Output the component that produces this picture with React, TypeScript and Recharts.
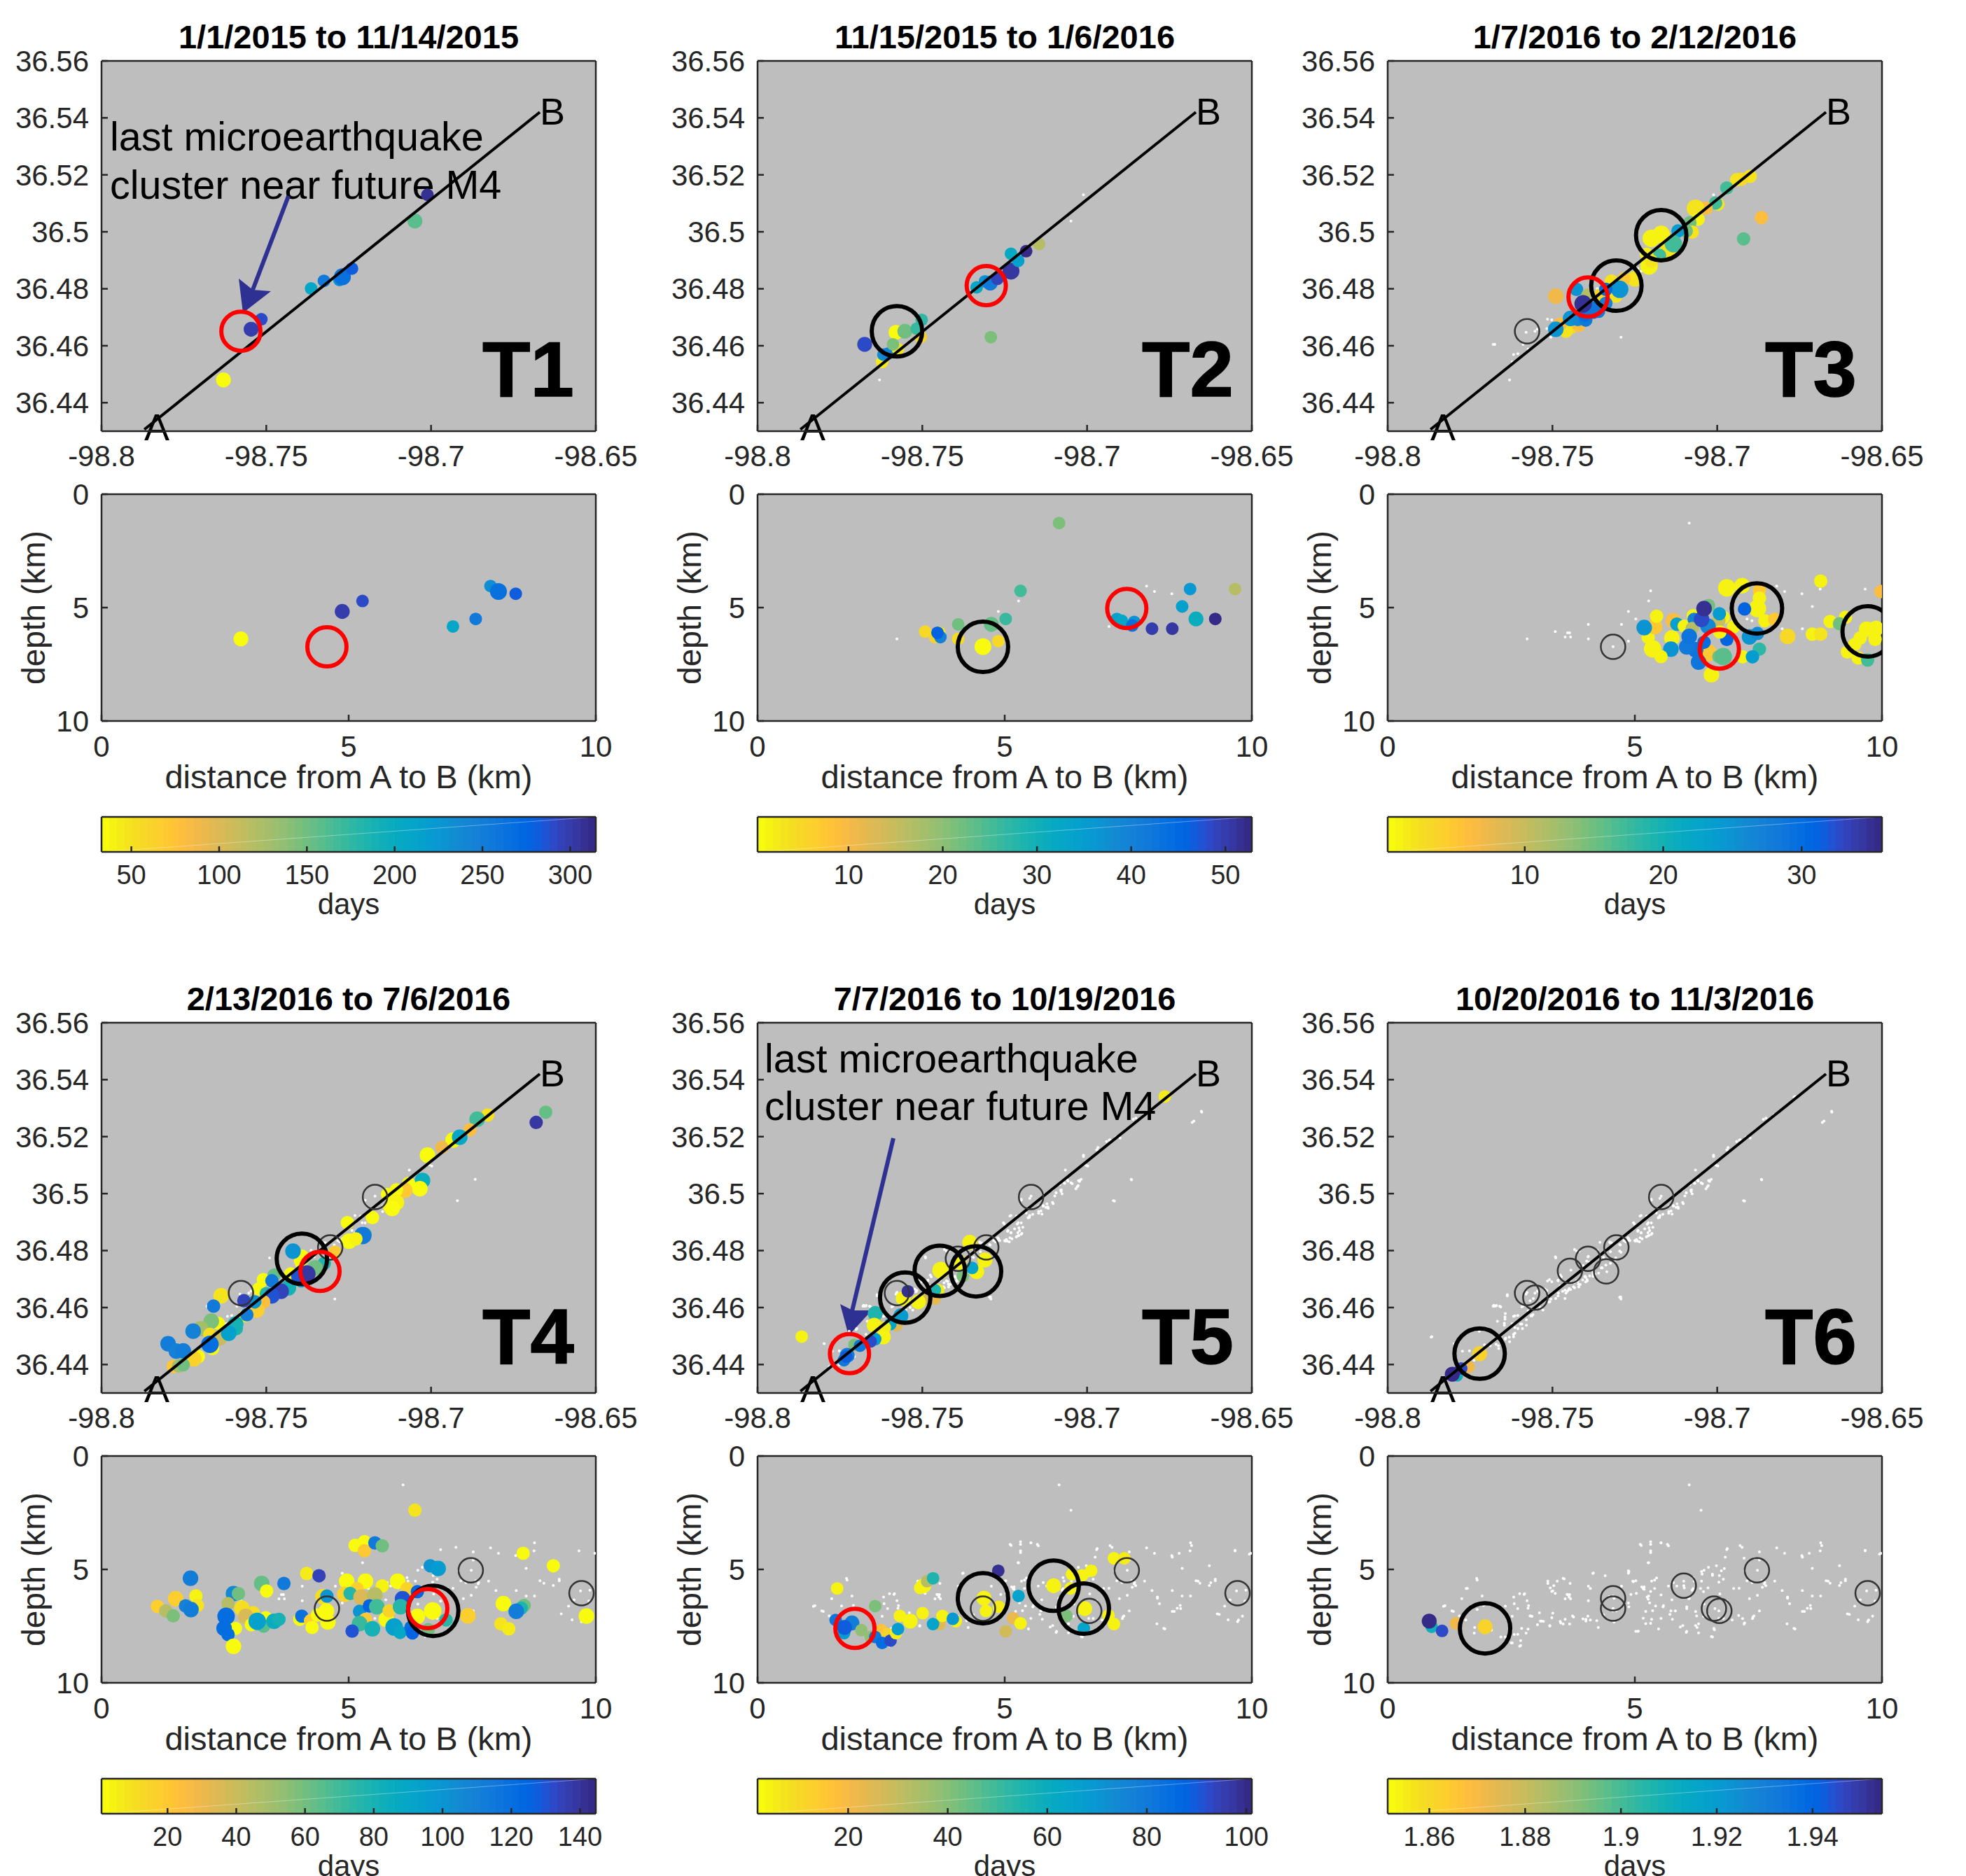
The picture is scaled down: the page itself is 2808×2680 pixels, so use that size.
import { ScatterChart, Scatter, XAxis, YAxis, ZAxis, CartesianGrid, ReferenceArea, ReferenceLine } from 'recharts';

// parula colormap, drawn reversed (yellow = first days, navy = last days)
const parula = [
  [0.2081, 0.1663, 0.5292], [0.2116, 0.1898, 0.5777], [0.2123, 0.2138, 0.627], [0.2081, 0.2386, 0.6771],
  [0.1959, 0.2645, 0.7279], [0.1707, 0.2919, 0.7792], [0.1253, 0.3242, 0.8303], [0.0591, 0.3598, 0.8683],
  [0.0117, 0.3875, 0.882], [0.006, 0.4086, 0.8828], [0.0165, 0.4266, 0.8786], [0.0329, 0.443, 0.872],
  [0.0498, 0.4586, 0.8641], [0.0629, 0.4737, 0.8554], [0.0723, 0.4887, 0.8467], [0.0779, 0.504, 0.8384],
  [0.0793, 0.52, 0.8312], [0.0749, 0.5375, 0.8263], [0.0641, 0.557, 0.824], [0.0488, 0.5772, 0.8228],
  [0.0343, 0.5966, 0.8199], [0.0265, 0.6137, 0.8135], [0.0239, 0.6287, 0.8038], [0.0231, 0.6418, 0.7913],
  [0.0228, 0.6535, 0.7768], [0.0267, 0.6642, 0.7607], [0.0384, 0.6743, 0.7436], [0.059, 0.6838, 0.7254],
  [0.0843, 0.6928, 0.7062], [0.1133, 0.7015, 0.6859], [0.1453, 0.7098, 0.6646], [0.1801, 0.7177, 0.6424],
  [0.2178, 0.725, 0.6193], [0.2586, 0.7317, 0.5954], [0.3022, 0.7376, 0.5712], [0.3482, 0.7424, 0.5473],
  [0.3953, 0.7459, 0.5244], [0.442, 0.7481, 0.5033], [0.4871, 0.7491, 0.484], [0.53, 0.7491, 0.4661],
  [0.5709, 0.7485, 0.4494], [0.6099, 0.7473, 0.4337], [0.6473, 0.7456, 0.4188], [0.6834, 0.7435, 0.4044],
  [0.7184, 0.7411, 0.3905], [0.7525, 0.7384, 0.3768], [0.7858, 0.7356, 0.3633], [0.8185, 0.7327, 0.3498],
  [0.8507, 0.7299, 0.336], [0.8824, 0.7274, 0.3217], [0.9139, 0.7258, 0.3063], [0.945, 0.7261, 0.2886],
  [0.9739, 0.7314, 0.2666], [0.9938, 0.7455, 0.2403], [0.999, 0.7653, 0.2164], [0.9955, 0.7861, 0.1967],
  [0.988, 0.8066, 0.1794], [0.9789, 0.8271, 0.1633], [0.9697, 0.8481, 0.1475], [0.9626, 0.8705, 0.1309],
  [0.9589, 0.8949, 0.1132], [0.9598, 0.9218, 0.0948], [0.9661, 0.9514, 0.0755], [0.9763, 0.9831, 0.0538],
];
const colormap = parula
  .slice()
  .reverse()
  .map(([r, g, b]) => `rgb(${Math.round(r * 255)},${Math.round(g * 255)},${Math.round(b * 255)})`);

// map rows: [lon, lat, days, size class]; depth rows: [distance, depth, days, size class]
const t1Map = [
  [-98.763, 36.448, 35, 2], [-98.7546, 36.4658, 300, 2], [-98.7515, 36.4693, 290], [-98.7364, 36.4801, 205],
  [-98.7325, 36.4828, 255], [-98.7278, 36.4831, 235], [-98.7269, 36.4842, 262, 3], [-98.724, 36.4871, 280],
  [-98.7049, 36.5038, 160, 2], [-98.7011, 36.513, 310],
];
const t1Depth = [
  [2.82, 6.38, 35, 2], [4.87, 5.17, 300, 2], [5.28, 4.71, 290], [7.11, 5.83, 205],
  [7.57, 5.5, 255], [7.87, 4.05, 235], [8.03, 4.29, 262, 3], [8.38, 4.39, 280],
];
const t2Map = [
  [-98.768, 36.4605, 5], [-98.7675, 36.4605, 48, 2], [-98.7622, 36.4543, 2], [-98.7618, 36.4569, 38],
  [-98.7605, 36.4572, 40], [-98.7574, 36.4588, 3], [-98.758, 36.4647, 1, 2], [-98.7589, 36.4605, 21],
  [-98.7505, 36.463, 6], [-98.7553, 36.4651, 22, 2], [-98.7517, 36.466, 26], [-98.7502, 36.4691, 27],
  [-98.7335, 36.4805, 33], [-98.731, 36.4826, 37], [-98.7294, 36.482, 42, 2], [-98.7272, 36.4835, 49],
  [-98.7292, 36.463, 21], [-98.7231, 36.4862, 51, 3], [-98.7209, 36.4898, 34], [-98.7231, 36.4923, 32],
  [-98.7185, 36.4932, 52], [-98.7146, 36.4957, 16],
];
const t2Depth = [
  [3.39, 6.06, 5], [3.59, 6.3, 6], [4.06, 6.38, 4], [3.68, 6.11, 3], [3.7, 6.3, 40], [3.64, 6.11, 46],
  [4.06, 5.74, 22], [4.73, 5.74, 23, 2], [5.02, 5.5, 26], [5.32, 4.26, 25], [4.56, 6.72, 1, 3], [4.87, 6.48, 5],
  [6.1, 1.27, 21], [7.27, 5.5, 34], [7.37, 5.58, 33], [7.62, 5.63, 37], [7.58, 5.79, 43], [7.98, 5.93, 50],
  [8.39, 5.93, 51], [8.59, 4.95, 34], [8.75, 4.18, 36], [8.87, 5.5, 31, 2], [9.26, 5.5, 52], [9.66, 4.18, 16],
];
const t3Map = [
  [-98.692, 36.4975, 16], [-98.6866, 36.505, 6], [-98.69, 36.5195, 2], [-98.6926, 36.5185, 3], [-98.6941, 36.5183, 2],
  [-98.6971, 36.5154, 17], [-98.6998, 36.5097, 2], [-98.7005, 36.5101, 17], [-98.7034, 36.5083, 6], [-98.7066, 36.5083, 2, 3],
  [-98.7058, 36.5044, 1], [-98.7083, 36.5032, 15], [-98.7076, 36.4999, 2], [-98.7094, 36.5003, 15], [-98.7119, 36.5003, 24],
  [-98.72, 36.4977, 1, 3], [-98.717, 36.4991, 1, 3], [-98.7147, 36.4937, 2, 3], [-98.7133, 36.4958, 17, 3], [-98.7175, 36.4917, 17],
  [-98.7214, 36.4921, 1], [-98.7207, 36.488, 1, 3], [-98.72, 36.4897, 2], [-98.725, 36.4835, 2, 2], [-98.7283, 36.4835, 5],
  [-98.7321, 36.4827, 2], [-98.7308, 36.4774, 2], [-98.7355, 36.4778, 3], [-98.7296, 36.4798, 25, 3], [-98.7338, 36.4798, 30],
  [-98.7338, 36.4749, 27], [-98.7427, 36.4798, 25], [-98.749, 36.4774, 7, 2], [-98.7392, 36.4778, 11], [-98.7445, 36.4663, 3],
  [-98.7459, 36.4651, 2], [-98.7477, 36.4676, 6], [-98.742, 36.4672, 6], [-98.7445, 36.4696, 25, 2], [-98.7423, 36.4692, 26],
  [-98.7399, 36.469, 28], [-98.749, 36.4658, 25, 2], [-98.736, 36.4721, 28], [-98.7402, 36.4708, 30], [-98.7377, 36.4725, 29, 3],
  [-98.7407, 36.4747, 35, 3],
];
const t3Depth = [
  [6.86, 4.13, 1, 3], [7.17, 4.03, 1, 2], [8.76, 3.83, 1], [9.98, 4.29, 6], [7.52, 4.23, 5], [7.52, 4.58, 1], [7.48, 5.04, 1, 3],
  [7.22, 5.06, 31], [7.63, 5.58, 1], [7.83, 5.52, 5], [7.0, 5.84, 1], [7.32, 6.29, 25, 2], [7.48, 6.14, 26], [8.09, 6.27, 3, 2],
  [8.59, 6.17, 1], [8.76, 6.17, 2], [8.95, 5.61, 1], [9.26, 5.43, 1], [9.14, 5.71, 15], [9.69, 5.95, 1, 2], [9.88, 5.92, 1, 2],
  [9.56, 6.34, 1], [9.86, 6.4, 1], [9.45, 6.62, 1], [9.3, 6.96, 1], [9.52, 7.22, 1], [9.71, 7.31, 17], [7.52, 6.83, 18],
  [7.18, 7.17, 1], [7.38, 7.17, 24], [6.48, 6.99, 5, 3], [6.7, 7.16, 15], [6.79, 7.16, 16, 3], [6.55, 7.96, 1, 2], [6.29, 7.4, 29, 2],
  [6.23, 6.86, 29, 2], [6.05, 6.73, 28, 2], [6.86, 6.4, 31], [6.4, 6.53, 30], [5.75, 6.34, 1, 2], [5.73, 6.83, 25, 2], [5.36, 6.82, 1, 3],
  [5.53, 7.16, 1], [5.27, 6.31, 1], [5.4, 5.84, 5, 2], [5.19, 5.88, 25, 2], [5.44, 5.38, 1], [5.78, 5.58, 6, 2], [5.85, 5.73, 23],
  [6.0, 5.82, 1], [6.18, 5.36, 1], [6.2, 5.52, 27], [6.16, 5.92, 11], [6.1, 6.27, 29, 2], [6.79, 5.43, 1], [6.7, 5.56, 10],
  [6.72, 6.08, 1], [6.71, 5.27, 24], [6.48, 5.82, 26, 2], [6.49, 4.91, 15], [6.35, 5.52, 33, 2], [6.4, 5.04, 35, 2],
];
const t4Map = [
  [-98.7132, 36.4997, 3], [-98.7125, 36.4952, 4], [-98.7178, 36.4916, 3], [-98.7254, 36.4898, 3], [-98.72, 36.4857, 60], [-98.7207, 36.4853, 115, 3],
  [-98.7249, 36.4833, 3, 2], [-98.7228, 36.4841, 4], [-98.7292, 36.4794, 20], [-98.7391, 36.478, 2], [-98.7396, 36.4763, 2], [-98.7419, 36.4798, 100, 2],
  [-98.7324, 36.4755, 78], [-98.7352, 36.4739, 60, 2], [-98.7426, 36.4718, 3], [-98.7394, 36.4694, 95], [-98.7401, 36.471, 130, 2], [-98.7377, 36.4718, 140, 3],
  [-98.7433, 36.4669, 80, 2], [-98.7455, 36.4657, 135, 2], [-98.7509, 36.4698, 3], [-98.7523, 36.4665, 3], [-98.7476, 36.4714, 62], [-98.7483, 36.4694, 115],
  [-98.75, 36.4649, 75], [-98.7483, 36.4641, 130, 2], [-98.7508, 36.462, 25], [-98.7637, 36.4641, 8, 2], [-98.7529, 36.4591, 18, 2], [-98.7535, 36.462, 100],
  [-98.7568, 36.4624, 135], [-98.766, 36.4605, 115], [-98.7563, 36.4572, 3], [-98.7559, 36.4575, 112], [-98.7646, 36.4545, 3], [-98.7667, 36.4552, 58, 2],
  [-98.7591, 36.4526, 78], [-98.7593, 36.4542, 80, 2], [-98.7699, 36.4526, 50, 2], [-98.7722, 36.4517, 110, 2], [-98.7671, 36.4506, 12], [-98.7642, 36.4493, 40, 2],
  [-98.7614, 36.451, 95, 2], [-98.7663, 36.4456, 3], [-98.7671, 36.4471, 122, 3], [-98.7706, 36.4428, 3], [-98.772, 36.442, 15, 2], [-98.7798, 36.4473, 112, 2],
  [-98.7773, 36.4447, 110, 2], [-98.7752, 36.4448, 112, 2], [-98.7782, 36.4393, 20], [-98.7766, 36.4395, 50], [-98.7752, 36.4399, 60],
  [-98.6652, 36.5286, 62], [-98.6681, 36.525, 138], [-98.6828, 36.5276, 8], [-98.686, 36.5261, 70, 2], [-98.6882, 36.5224, 25], [-98.6933, 36.5188, 3, 2],
  [-98.6913, 36.5198, 90, 2], [-98.6967, 36.5162, 30], [-98.7011, 36.5135, 3, 2], [-98.7023, 36.5046, 45], [-98.7026, 36.5046, 85, 2], [-98.7034, 36.5017, 3, 2],
  [-98.7068, 36.5036, 3], [-98.708, 36.5012, 20, 2], [-98.7105, 36.5013, 3], [-98.7105, 36.4969, 4, 2], [-98.7118, 36.4948, 3, 2],
];
const t4Depth = [
  [6.34, 2.39, 8], [5.13, 3.94, 3], [5.32, 3.78, 3], [5.32, 4.18, 20], [5.53, 3.83, 115], [5.68, 3.96, 60], [8.53, 4.29, 3], [9.14, 4.84, 3],
  [6.65, 4.84, 100], [6.81, 4.96, 97, 2], [4.15, 5.18, 6], [4.4, 5.28, 135], [1.8, 5.39, 112, 2], [3.24, 5.62, 62, 2], [3.69, 5.62, 115], [3.34, 5.95, 3],
  [4.96, 5.52, 3, 2], [5.34, 5.52, 3, 2], [5.99, 5.52, 3, 2], [5.68, 5.73, 4], [5.17, 5.85, 18], [4.92, 6.1, 15, 2], [5.03, 6.06, 75], [5.25, 6.22, 35, 2],
  [5.53, 6.13, 45, 2], [6.18, 5.85, 15], [6.09, 6.29, 130, 2], [6.39, 5.98, 125], [4.48, 6.2, 10, 2], [4.56, 6.18, 100], [1.91, 6.17, 5], [1.5, 6.29, 18, 2],
  [1.13, 6.63, 18], [1.3, 6.83, 45], [1.45, 7.05, 58], [1.94, 6.59, 8], [1.7, 6.61, 110], [1.81, 6.77, 112, 2], [2.67, 6.07, 105, 2], [2.77, 6.07, 60],
  [2.56, 6.51, 45], [2.84, 6.71, 12, 2], [3.07, 6.91, 10], [2.52, 7.07, 120, 3], [2.92, 7.07, 35, 2], [3.03, 7.44, 3], [3.32, 7.13, 3], [3.28, 7.5, 65],
  [3.15, 7.29, 95, 3], [3.49, 7.29, 85, 2], [3.59, 7.2, 80], [2.71, 7.6, 3], [2.48, 7.6, 122, 2], [2.56, 7.87, 122], [2.67, 8.39, 3, 2], [4.01, 7.2, 3],
  [4.05, 7.06, 118], [4.23, 7.26, 18], [4.26, 7.56, 3], [4.58, 7.32, 3, 2], [4.55, 6.83, 3, 2], [4.37, 7.01, 3], [5.22, 6.85, 100], [5.42, 6.61, 125],
  [5.57, 6.65, 70, 2], [5.34, 7.2, 20], [5.22, 7.39, 72, 2], [5.07, 7.72, 130], [5.48, 7.62, 80, 2], [5.76, 7.2, 3, 2], [5.82, 6.83, 15], [6.05, 6.65, 75, 2],
  [5.92, 7.54, 95, 3], [6.04, 7.78, 90], [6.26, 7.56, 122], [6.29, 7.8, 125], [6.61, 7.66, 60], [6.97, 7.23, 75], [6.39, 7.07, 3, 2], [6.7, 6.83, 3, 3],
  [7.41, 7.05, 18, 2], [8.13, 6.51, 3, 2], [8.55, 6.59, 60], [8.49, 6.71, 78], [8.39, 6.85, 112, 2], [8.08, 7.4, 8], [8.24, 7.62, 6], [9.81, 7.06, 3, 2],
];
const t5Map = [
  [-98.6764, 36.5341, 5], [-98.7866, 36.4498, 4], [-98.7356, 36.4829, 4, 2], [-98.731, 36.4767, 4, 2], [-98.7335, 36.4726, 4, 2], [-98.7349, 36.4739, 65],
  [-98.7377, 36.471, 42], [-98.7388, 36.4759, 4, 2], [-98.7444, 36.4731, 4, 3], [-98.7452, 36.4661, 5], [-98.7462, 36.4632, 22], [-98.7462, 36.4661, 55],
  [-98.749, 36.4632, 28], [-98.7512, 36.462, 4, 2], [-98.7558, 36.4632, 4, 2], [-98.7544, 36.4657, 98], [-98.7579, 36.4538, 25], [-98.7562, 36.4571, 4],
  [-98.7565, 36.4571, 68, 2], [-98.7597, 36.4542, 65], [-98.7644, 36.4559, 30], [-98.7643, 36.4579, 55, 2], [-98.7646, 36.4538, 4, 2], [-98.7614, 36.453, 5],
  [-98.7618, 36.4497, 4, 2], [-98.7643, 36.4489, 68], [-98.7657, 36.4481, 92], [-98.7706, 36.4469, 42], [-98.7689, 36.4466, 82], [-98.7738, 36.4415, 80],
  [-98.7728, 36.4432, 78, 2], [-98.7731, 36.4428, 90],
];
const t5Depth = [
  [1.61, 5.84, 4], [1.58, 7.23, 82], [1.75, 7.81, 68], [1.91, 7.36, 78, 2], [1.76, 7.56, 90, 2], [2.1, 7.68, 38], [2.38, 6.62, 42], [2.29, 7.98, 38],
  [2.5, 7.68, 17], [2.63, 7.86, 12], [2.38, 7.98, 82], [2.52, 8.24, 85], [2.69, 8.14, 92], [2.8, 7.81, 5], [2.88, 7.05, 4], [2.84, 7.63, 68],
  [3.09, 7.28, 4, 2], [3.34, 6.93, 4], [3.29, 5.82, 4], [3.36, 5.72, 4, 2], [3.43, 5.52, 32], [3.55, 5.39, 55], [3.68, 7.41, 25], [3.55, 7.41, 65],
  [3.74, 7.05, 4], [4.01, 7.28, 4], [3.95, 7.18, 70], [4.58, 6.27, 4, 2], [4.62, 6.83, 4], [4.88, 6.65, 5], [4.87, 5.06, 98], [5.02, 7.73, 28],
  [5.17, 7.15, 22], [5.32, 7.38, 4], [5.28, 6.17, 65], [5.99, 5.72, 4, 2], [6.25, 7.05, 42], [6.33, 5.84, 4], [6.36, 5.21, 4], [6.57, 5.26, 4],
  [6.75, 5.06, 4], [6.62, 6.73, 4, 2], [6.6, 7.6, 65], [7.1, 7.03, 4], [7.21, 7.41, 4], [7.21, 4.51, 4], [7.42, 4.51, 5],
];
const t6Map = [
  [-98.7721, 36.4438, 1.861, 2], [-98.7754, 36.4392, 1.872], [-98.779, 36.4362, 1.91], [-98.7777, 36.4386, 1.945], [-98.7804, 36.4366, 1.953, 2],
];
const t6Depth = [
  [1.97, 7.53, 1.861, 2], [1.38, 7.38, 1.872], [0.89, 7.53, 1.91], [0.84, 7.28, 1.953, 2], [1.1, 7.71, 1.945],
];

// small earlier events only seen as white dots in T5 and T6, hidden under the colored marks before that
const olderMap = [
  [-98.7018, 36.505], [-98.7023, 36.5043], [-98.7045, 36.5035], [-98.703, 36.5024], [-98.707, 36.5037], [-98.7078, 36.5013], [-98.7094, 36.5003],
  [-98.7098, 36.4992], [-98.7103, 36.4965], [-98.7122, 36.4964], [-98.7119, 36.4953], [-98.7133, 36.4956], [-98.714, 36.4939], [-98.7147, 36.4931],
  [-98.7165, 36.4927], [-98.7174, 36.4923], [-98.7179, 36.4915], [-98.72, 36.498], [-98.7174, 36.4983], [-98.7234, 36.4921], [-98.7251, 36.4893],
  [-98.7212, 36.4893], [-98.7195, 36.4882], [-98.722, 36.4876], [-98.7241, 36.4868], [-98.7231, 36.4863], [-98.7205, 36.487], [-98.721, 36.4863],
  [-98.7198, 36.486], [-98.7211, 36.4851], [-98.7234, 36.4845], [-98.7245, 36.4839], [-98.7242, 36.4833], [-98.7236, 36.4831], [-98.7271, 36.4845],
  [-98.7265, 36.4835], [-98.7296, 36.4821], [-98.7326, 36.483], [-98.7324, 36.4796], [-98.7345, 36.4776], [-98.7427, 36.4694], [-98.742, 36.4681],
  [-98.7434, 36.4687], [-98.7416, 36.4681], [-98.7473, 36.4708], [-98.7483, 36.4696], [-98.7491, 36.4778], [-98.7433, 36.4804], [-98.7296, 36.4636],
  [-98.7399, 36.4706], [-98.7395, 36.4698], [-98.7593, 36.4602], [-98.7537, 36.46], [-98.7637, 36.4645], [-98.7577, 36.4653], [-98.7519, 36.4655],
  [-98.7678, 36.4608], [-98.7671, 36.4606], [-98.7657, 36.4602], [-98.7701, 36.4523], [-98.755, 36.4591], [-98.7614, 36.4571], [-98.7482, 36.4651],
  [-98.7469, 36.4657], [-98.7449, 36.4667], [-98.7436, 36.4673], [-98.7421, 36.4683], [-98.7408, 36.4697], [-98.7387, 36.4711], [-98.7371, 36.4717],
  [-98.767, 36.4607], [-98.7644, 36.4567], [-98.7618, 36.4506], [-98.7631, 36.4496], [-98.7605, 36.4526], [-98.7579, 36.4557], [-98.7664, 36.4466],
  [-98.7293, 36.4637], [-98.7241, 36.4868], [-98.7215, 36.4848], [-98.7137, 36.4928], [-98.7079, 36.5008], [-98.706, 36.5048], [-98.7027, 36.5028],
  [-98.7001, 36.5098], [-98.6969, 36.5153], [-98.693, 36.5189], [-98.6852, 36.5265], [-98.6767, 36.5339], [-98.6917, 36.4974], [-98.6865, 36.5048],
  [-98.6676, 36.5255], [-98.6653, 36.5289], [-98.7868, 36.4496],
];
const olderDepth = [
  [2.55, 6.22], [2.63, 6.73], [2.76, 6.1], [2.85, 6.6], [2.89, 7.05], [2.46, 7.73], [2.69, 8.36], [2.5, 8.24], [3.24, 5.52], [3.32, 5.97], [3.57, 5.42],
  [3.63, 6.1], [3.67, 6.22], [3.11, 7.28], [3.28, 7.48], [3.5, 7.36], [3.76, 7.1], [4.1, 7.23], [4.16, 5.16], [4.1, 5.84], [4.88, 5.09], [4.97, 5.54],
  [5.14, 5.77], [5.06, 7.73], [5.19, 5.77], [5.32, 5.97], [5.3, 6.47], [5.4, 5.47], [5.11, 3.9], [5.32, 3.9], [5.53, 3.83], [5.66, 3.9], [5.27, 4.71],
  [5.58, 6.6], [5.71, 6.98], [5.97, 7.48], [6.05, 7.73], [6.23, 7.48], [6.57, 7.98], [6.35, 5.09], [6.57, 5.21], [6.83, 4.46], [6.87, 4.08], [7.13, 3.95],
  [7.65, 5.72], [7.22, 7.36], [7.39, 7.1], [8.09, 6.22], [8.22, 7.6], [8.43, 6.85], [8.56, 6.73], [8.78, 3.95], [8.39, 4.46], [8.91, 5.52], [9.34, 6.98],
  [9.73, 7.23], [9.66, 4.16], [9.95, 4.33], [9.17, 5.59], [1.59, 5.84], [1.81, 5.47], [1.16, 6.6], [1.33, 6.85],
];

// larger events circled in the panels: [lon, lat, distance, depth]
const e1 = [-98.7577, 36.4651, 4.56, 6.73];
const e2 = [-98.7306, 36.4811, 7.47, 5.04];
const e3 = [-98.717, 36.4988, 9.71, 6.05];
const e4 = [-98.7392, 36.4771, 6.71, 6.83];
const e5 = [-98.7337, 36.4727, 6.6, 6.73];
const e6 = [-98.7552, 36.4635, 4.56, 6.27];
const e7 = [-98.7447, 36.4729, 5.99, 5.72];
const e8 = [-98.7721, 36.4438, 1.97, 7.6];

const lineAB = [{ x: -98.787, y: 36.4306 }, { x: -98.667, y: 36.542 }];

const lonTicks = [-98.8, -98.75, -98.7, -98.65];
const latTicks = [36.44, 36.46, 36.48, 36.5, 36.52, 36.54, 36.56];
const kmTicks = [0, 5, 10];

const panels = [
  { label: 'T1', title: '1/1/2015 to 11/14/2015', map: t1Map, depth: t1Depth, days: [33, 314.6], dayTicks: [50, 100, 150, 200, 250, 300], grey: [], black: [], red: [e1], col: 0, row: 0 },
  { label: 'T2', title: '11/15/2015 to 1/6/2016', map: t2Map, depth: t2Depth, days: [0.35, 52.8], dayTicks: [10, 20, 30, 40, 50], grey: [], black: [e1], red: [e2], col: 1, row: 0 },
  { label: 'T3', title: '1/7/2016 to 2/12/2016', map: t3Map, depth: t3Depth, days: [0.1, 35.8], dayTicks: [10, 20, 30], grey: [e1], black: [e2, e3], red: [e4], col: 2, row: 0 },
  { label: 'T4', title: '2/13/2016 to 7/6/2016', map: t4Map, depth: t4Depth, days: [0.8, 144.6], dayTicks: [20, 40, 60, 80, 100, 120, 140], grey: [e1, e2, e3], black: [e4], red: [e5], col: 0, row: 1 },
  { label: 'T5', title: '7/7/2016 to 10/19/2016', map: t5Map, depth: t5Depth, days: [1.8, 101.1], dayTicks: [20, 40, 60, 80, 100], grey: [e1, e2, e3, e4], black: [e5, e6, e7], red: [e8], col: 1, row: 1 },
  { label: 'T6', title: '10/20/2016 to 11/3/2016', map: t6Map, depth: t6Depth, days: [1.8513, 1.9545], dayTicks: [1.86, 1.88, 1.9, 1.92, 1.94], grey: [e1, e2, e3, e4, e5, e6, e7], black: [e8], red: [], col: 2, row: 1 },
];

const colX = [145, 1082, 1982];
const labelOffsetT = [544, 549, 539];
const ROW_STEP = 1374;
const PLOT_W = 706;
const CHART_W = 930;
const DARK = '#262626';
const GREY = '#BEBEBE';
const FONT = '"Liberation Sans", Arial, sans-serif';
// every axis takes 1px out of the margins
const LEFT = 144;
const RIGHT = CHART_W - 145 - PLOT_W - 1;
// T3 and T4 were plotted with bigger markers
const sizeRange = (label: string) => (label === 'T3' || label === 'T4' ? [290, 490] : [255, 460]);

const colorFor = (day: number, domain: number[]) => {
  const t = (day - domain[0]) / (domain[1] - domain[0]);
  return colormap[Math.max(0, Math.min(63, Math.floor(t * 64)))];
};
const rows = (list: number[][]) => list.map(([x, y, day, mag]) => ({ x, y, day, mag: mag ?? 1 }));
const ringRows = (list: number[][], a: number, b: number) => list.map((e) => ({ x: e[a], y: e[b] }));

const whiteDot = (p: any) => <circle cx={p.cx} cy={p.cy} r={2} fill="#fff" />;
const noDot = () => <g />;
const ring = (r: number, color: string, width: number) => (p: any) => (
  <circle cx={p.cx} cy={p.cy} r={r} fill="none" stroke={color} strokeWidth={width} />
);
const eventDot = (domain: number[]) => (p: any) => (
  <circle cx={p.cx} cy={p.cy} r={p.width / 2} fill={colorFor(p.payload.day, domain)} />
);

const tickStyle = { fontSize: 42, fill: DARK, fontFamily: FONT };
const axisLine = { stroke: DARK, strokeWidth: 2.5 };
const tickLine = { stroke: DARK, strokeWidth: 2.5 };

function MapChart({ panel, index }: any) {
  const left = colX[panel.col] - 145;
  const top = panel.row * ROW_STEP;
  const earlier = panels.slice(0, index).flatMap((p) => p.map);
  const whites = rows(index >= 4 ? [...earlier, ...olderMap] : earlier);
  const tBase = panel.row === 0 ? 566 : 574;
  return (
    <div style={{ position: 'absolute', left, top }}>
      <ScatterChart width={CHART_W} height={690} margin={{ top: 86, left: LEFT, right: RIGHT, bottom: 73 }}>
        <CartesianGrid fill={GREY} horizontal={false} vertical={false} />
        <XAxis dataKey="x" type="number" domain={[-98.8, -98.65]} ticks={lonTicks} allowDataOverflow height={1} interval={0} tick={tickStyle} tickSize={-9} tickMargin={29} axisLine={axisLine} tickLine={tickLine} />
        <YAxis dataKey="y" type="number" domain={[36.43, 36.56]} ticks={latTicks} allowDataOverflow width={1} interval={0} tick={tickStyle} tickSize={-9} tickMargin={27} axisLine={axisLine} tickLine={tickLine} />
        <XAxis xAxisId="top" orientation="top" type="number" domain={[-98.8, -98.65]} ticks={lonTicks} height={1} interval={0} tick={false} tickSize={-9} axisLine={axisLine} tickLine={tickLine} />
        <YAxis yAxisId="right" orientation="right" type="number" domain={[36.43, 36.56]} ticks={latTicks} width={1} interval={0} tick={false} tickSize={-9} axisLine={axisLine} tickLine={tickLine} />
        <ZAxis dataKey="mag" type="number" domain={[1, 3]} range={sizeRange(panel.label)} />
        <Scatter data={whites} shape={whiteDot} isAnimationActive={false} />
        <Scatter data={rows(panel.map)} shape={eventDot(panel.days)} isAnimationActive={false} />
        <Scatter data={lineAB} shape={noDot} line={{ stroke: '#000', strokeWidth: 4 }} isAnimationActive={false} />
        <Scatter data={ringRows(panel.grey, 0, 1)} shape={ring(17.5, '#333333', 2.5)} isAnimationActive={false} />
        <Scatter data={ringRows(panel.black, 0, 1)} shape={ring(36, '#000000', 6)} isAnimationActive={false} />
        <Scatter data={ringRows(panel.red, 0, 1)} shape={ring(28, '#FF0000', 6)} isAnimationActive={false} />
        <text x={145 + PLOT_W / 2} y={69} textAnchor="middle" fontFamily={FONT} fontWeight="bold" fontSize={47} fill="#000">{panel.title}</text>
        <text x={224} y={629} textAnchor="middle" fontFamily={FONT} fontSize={54} fill="#000">A</text>
        <text x={771} y={178} fontFamily={FONT} fontSize={54} fill="#000">B</text>
        <text x={labelOffsetT[panel.col] + 145} y={tBase} fontFamily={FONT} fontWeight="bold" fontSize={112} fill="#000" stroke="#000" strokeWidth={1.5}>{panel.label}</text>
        {panel.label === 'T1' && (
          <g>
            <text x={157} y={215} fontFamily={FONT} fontSize={57.5} fill="#000">last microearthquake</text>
            <text x={157} y={284} fontFamily={FONT} fontSize={57.5} fill="#000">cluster near future M4</text>
            <line x1={412} y1={280} x2={361} y2={414} stroke="#2E3192" strokeWidth={6} />
            <polygon points="347,447 341,398 361,414 387,416" fill="#2E3192" />
          </g>
        )}
        {panel.label === 'T5' && (
          <g>
            <text x={155} y={158} fontFamily={FONT} fontSize={57.5} fill="#000">last microearthquake</text>
            <text x={155} y={226} fontFamily={FONT} fontSize={57.5} fill="#000">cluster near future M4</text>
            <line x1={339} y1={252} x2={280} y2={499} stroke="#2E3192" strokeWidth={6} />
            <polygon points="275,534 263,489 281,498 308,498" fill="#2E3192" />
          </g>
        )}
      </ScatterChart>
    </div>
  );
}

function DepthChart({ panel, index }: any) {
  const left = colX[panel.col] - 145;
  const top = 640 + panel.row * ROW_STEP;
  const earlier = panels.slice(0, index).flatMap((p) => p.depth);
  const whites = rows(index >= 4 ? [...earlier, ...olderDepth] : earlier);
  return (
    <div style={{ position: 'absolute', left, top }}>
      <ScatterChart width={CHART_W} height={506} margin={{ top: 65, left: LEFT, right: RIGHT, bottom: 115 }}>
        <CartesianGrid fill={GREY} horizontal={false} vertical={false} />
        <XAxis dataKey="x" type="number" domain={[0, 10]} ticks={kmTicks} allowDataOverflow height={1} interval={0} tick={tickStyle} tickSize={-9} tickMargin={30} axisLine={axisLine} tickLine={tickLine} />
        <YAxis dataKey="y" type="number" reversed domain={[0, 10]} ticks={kmTicks} allowDataOverflow width={1} interval={0} tick={tickStyle} tickSize={-9} tickMargin={27} axisLine={axisLine} tickLine={tickLine} />
        <XAxis xAxisId="top" orientation="top" type="number" domain={[0, 10]} ticks={kmTicks} height={1} interval={0} tick={false} tickSize={-9} axisLine={axisLine} tickLine={tickLine} />
        <YAxis yAxisId="right" orientation="right" type="number" reversed domain={[0, 10]} ticks={kmTicks} width={1} interval={0} tick={false} tickSize={-9} axisLine={axisLine} tickLine={tickLine} />
        <ZAxis dataKey="mag" type="number" domain={[1, 3]} range={sizeRange(panel.label)} />
        <Scatter data={whites} shape={whiteDot} isAnimationActive={false} />
        <Scatter data={rows(panel.depth)} shape={eventDot(panel.days)} isAnimationActive={false} />
        <Scatter data={ringRows(panel.grey, 2, 3)} shape={ring(17.5, '#333333', 2.5)} isAnimationActive={false} />
        <Scatter data={ringRows(panel.black, 2, 3)} shape={ring(36, '#000000', 6)} isAnimationActive={false} />
        <Scatter data={ringRows(panel.red, 2, 3)} shape={ring(28, '#FF0000', 6)} isAnimationActive={false} />
        <text x={145 + PLOT_W / 2} y={486} textAnchor="middle" fontFamily={FONT} fontSize={47} fill={DARK}>distance from A to B (km)</text>
        <text transform="translate(64,228) rotate(-90)" textAnchor="middle" fontFamily={FONT} fontSize={46} fill={DARK}>depth (km)</text>
      </ScatterChart>
    </div>
  );
}

function ColorBar({ panel }: any) {
  const left = colX[panel.col] - 145;
  const top = 1140 + panel.row * ROW_STEP;
  const [d0, d1] = panel.days;
  const step = (d1 - d0) / colormap.length;
  return (
    <div style={{ position: 'absolute', left, top }}>
      <ScatterChart width={CHART_W} height={197} margin={{ top: 26, left: LEFT, right: RIGHT, bottom: 119 }}>
        <XAxis dataKey="x" type="number" domain={panel.days} ticks={panel.dayTicks} allowDataOverflow height={1} interval={0} tick={{ ...tickStyle, fontSize: 38 }} tickSize={-8} tickMargin={27} axisLine={axisLine} tickLine={tickLine} />
        <YAxis dataKey="y" type="number" domain={[0, 1]} ticks={[0, 1]} allowDataOverflow width={1} tick={false} tickLine={false} axisLine={axisLine} />
        <XAxis xAxisId="top" orientation="top" type="number" domain={panel.days} ticks={panel.days} height={1} tick={false} tickLine={false} axisLine={axisLine} />
        <YAxis yAxisId="right" orientation="right" type="number" domain={[0, 1]} ticks={[0, 1]} width={1} tick={false} tickLine={false} axisLine={axisLine} />
        <Scatter data={[{ x: d0, y: 0 }, { x: d1, y: 1 }]} shape={noDot} isAnimationActive={false} />
        {colormap.map((c, i) => (
          <ReferenceArea key={c + i} x1={d0 + i * step} x2={d0 + (i + 1) * step} y1={0} y2={1} fill={c} fillOpacity={1} stroke="none" shapeRendering="crispEdges" ifOverflow="visible" />
        ))}
        <ReferenceLine segment={[{ x: d0, y: 0 }, { x: d1, y: 1 }]} stroke="#fff" strokeOpacity={0.35} strokeWidth={1} />
        <text x={145 + PLOT_W / 2} y={166} textAnchor="middle" fontFamily={FONT} fontSize={42} fill={DARK}>days</text>
      </ScatterChart>
    </div>
  );
}

export default function App() {
  return (
    <div style={{ position: 'absolute', left: 0, top: 0, width: 2808, height: 2680, overflow: 'hidden', background: '#fff', fontFamily: FONT }}>
      {panels.map((panel, i) => (
        <div key={panel.label}>
          <MapChart panel={panel} index={i} />
          <DepthChart panel={panel} index={i} />
          <ColorBar panel={panel} />
        </div>
      ))}
    </div>
  );
}
